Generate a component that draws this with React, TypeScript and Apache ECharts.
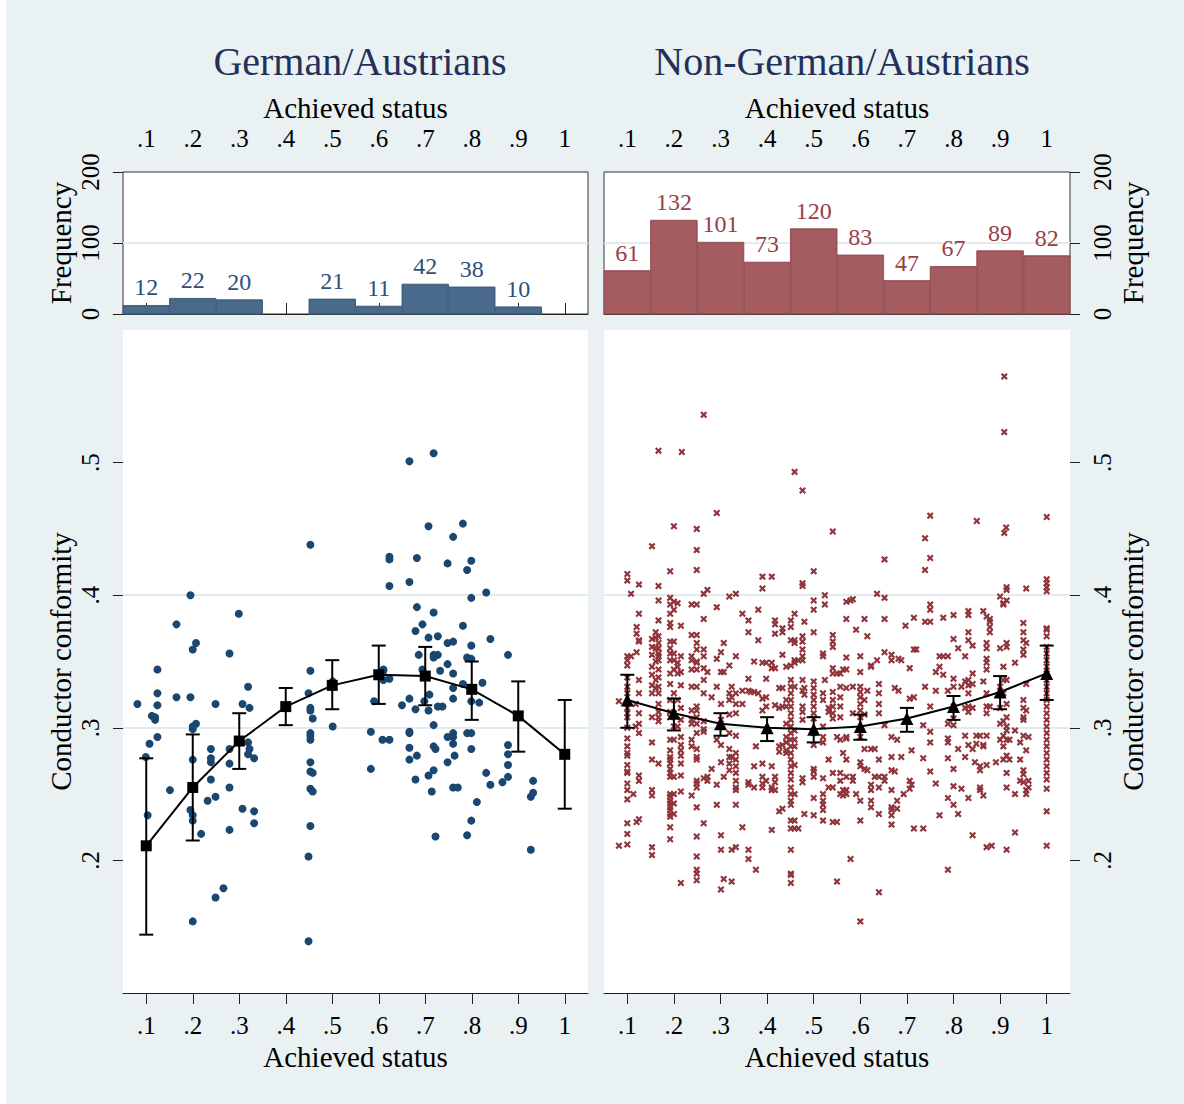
import React, { useEffect, useRef } from "react";
import * as echarts from "echarts";

const FONT = '"Liberation Serif", "Times New Roman", serif';

// axis ticks
const STATUS_TICKS = [0.1, 0.2, 0.3, 0.4, 0.5, 0.6, 0.7, 0.8, 0.9, 1.0];
const CONFORMITY_TICKS = [0.2, 0.3, 0.4, 0.5];

// histograms (bin start, width 0.1)
const BIN_STARTS = [0.05, 0.15, 0.25, 0.35, 0.45, 0.55, 0.65, 0.75, 0.85, 0.95];
const BIN_WIDTH = 0.1;
const GER_COUNTS = [12, 22, 20, 0, 21, 11, 42, 38, 10, 0];
const NON_COUNTS = [61, 132, 101, 73, 120, 83, 47, 67, 89, 82];

// fitted means with confidence intervals
const GER_MEAN = [0.211, 0.255, 0.290, 0.316, 0.332, 0.340, 0.339, 0.329, 0.309, 0.280];
const GER_LO = [0.144, 0.215, 0.269, 0.302, 0.314, 0.318, 0.317, 0.306, 0.282, 0.239];
const GER_HI = [0.277, 0.295, 0.311, 0.330, 0.351, 0.362, 0.361, 0.350, 0.335, 0.321];
const NON_MEAN = [0.321, 0.311, 0.303, 0.300, 0.299, 0.301, 0.307, 0.316, 0.327, 0.341];
const NON_LO = [0.300, 0.298, 0.294, 0.290, 0.289, 0.291, 0.297, 0.306, 0.314, 0.321];
const NON_HI = [0.340, 0.322, 0.311, 0.308, 0.308, 0.310, 0.315, 0.324, 0.339, 0.362];

// German/Austrians: [achieved status, conductor conformity]
const GER_POINTS: number[][] = [
  [0.666,0.501],[0.718,0.507],[0.453,0.438],[0.707,0.452],[0.781,0.454],[0.760,0.444],[0.623,0.429],[0.623,0.427],
  [0.682,0.428],[0.748,0.424],[0.799,0.426],[0.790,0.419],[0.666,0.410],[0.623,0.407],
  [0.081,0.318],[0.124,0.344],[0.124,0.326],[0.124,0.317],[0.112,0.309],[0.119,0.308],[0.119,0.306],[0.124,0.293],
  [0.107,0.288],[0.099,0.278],[0.103,0.234],
  [0.151,0.253],[0.165,0.378],[0.165,0.323],
  [0.195,0.400],[0.207,0.364],[0.200,0.359],[0.195,0.323],[0.207,0.303],[0.200,0.301],[0.200,0.299],[0.200,0.276],
  [0.195,0.238],[0.200,0.234],[0.200,0.230],[0.218,0.220],[0.200,0.154],
  [0.239,0.284],[0.239,0.277],[0.239,0.274],[0.239,0.261],[0.232,0.245],[0.249,0.248],[0.249,0.318],[0.249,0.172],[0.266,0.179],
  [0.279,0.356],[0.299,0.386],[0.279,0.284],[0.279,0.273],[0.279,0.255],[0.279,0.223],[0.307,0.318],[0.319,0.331],
  [0.322,0.315],[0.319,0.289],[0.322,0.284],[0.319,0.280],[0.332,0.277],[0.307,0.239],[0.332,0.237],[0.332,0.228],
  [0.453,0.343],[0.449,0.326],[0.453,0.315],[0.453,0.313],[0.458,0.307],[0.453,0.296],[0.453,0.294],[0.453,0.291],
  [0.453,0.274],[0.453,0.267],[0.458,0.266],[0.453,0.254],[0.458,0.252],[0.453,0.226],[0.449,0.203],[0.449,0.139],
  [0.501,0.335],[0.501,0.301],
  [0.610,0.344],[0.610,0.343],[0.610,0.336],[0.623,0.337],[0.590,0.320],[0.583,0.297],[0.608,0.291],[0.623,0.291],[0.583,0.269],
  [0.682,0.391],[0.694,0.378],[0.679,0.373],[0.707,0.368],[0.727,0.369],[0.718,0.387],[0.686,0.355],[0.718,0.355],
  [0.727,0.355],[0.718,0.353],[0.694,0.344],[0.698,0.339],[0.732,0.343],[0.666,0.322],[0.650,0.317],[0.679,0.314],
  [0.698,0.320],[0.709,0.325],[0.707,0.313],[0.727,0.316],[0.737,0.316],[0.666,0.297],[0.666,0.296],[0.718,0.302],
  [0.666,0.285],[0.682,0.279],[0.666,0.276],[0.679,0.261],[0.718,0.286],[0.722,0.284],[0.707,0.264],[0.718,0.268],
  [0.714,0.252],[0.722,0.218],
  [0.748,0.364],[0.760,0.365],[0.748,0.348],[0.760,0.341],[0.760,0.330],[0.760,0.322],[0.781,0.377],[0.799,0.362],
  [0.790,0.353],[0.799,0.352],[0.781,0.333],[0.799,0.398],[0.831,0.402],[0.840,0.367],[0.823,0.334],[0.816,0.319],
  [0.799,0.320],[0.748,0.293],[0.760,0.296],[0.760,0.293],[0.760,0.288],[0.748,0.274],[0.763,0.279],[0.760,0.255],
  [0.770,0.255],[0.790,0.296],[0.799,0.296],[0.799,0.284],[0.831,0.266],[0.840,0.257],[0.811,0.244],[0.799,0.230],[0.790,0.219],
  [0.878,0.355],[0.878,0.287],[0.878,0.280],[0.878,0.272],[0.878,0.263],[0.866,0.259],[0.932,0.260],[0.932,0.251],
  [0.927,0.248],[0.927,0.208],
];

// Non-German/Austrians: [achieved status, conformity values at that status]
const NON_COLUMNS: [number, number[]][] = [
  [0.082, [0.320, 0.211]],
  [0.100, [0.416, 0.411, 0.354, 0.351, 0.347, 0.338, 0.331, 0.326, 0.315, 0.311, 0.308, 0.300, 0.292, 0.286, 0.281, 0.279, 0.272, 0.267, 0.266, 0.258, 0.253, 0.246, 0.228, 0.220, 0.212]],
  [0.108, [0.401, 0.354]],
  [0.113, [0.250]],
  [0.118, [0.318, 0.301]],
  [0.120, [0.376, 0.371, 0.357, 0.229]],
  [0.125, [0.408, 0.386, 0.366, 0.365, 0.336, 0.326, 0.311, 0.303, 0.296, 0.264, 0.260, 0.231]],
  [0.153, [0.437, 0.367, 0.361, 0.355, 0.346, 0.340, 0.332, 0.326, 0.308, 0.289, 0.276, 0.253, 0.249, 0.210, 0.204]],
  [0.161, [0.372, 0.368, 0.360, 0.350, 0.336, 0.330]],
  [0.167, [0.509, 0.407, 0.396, 0.381, 0.369, 0.364, 0.360, 0.356, 0.354, 0.351, 0.344, 0.338, 0.331, 0.326, 0.318, 0.312, 0.308, 0.305, 0.273]],
  [0.192, [0.418, 0.398, 0.393, 0.386, 0.379, 0.376, 0.365, 0.360, 0.356, 0.351, 0.341, 0.333, 0.321, 0.312, 0.308, 0.291, 0.283, 0.278, 0.276, 0.273, 0.269, 0.266, 0.263, 0.250, 0.248, 0.245, 0.243, 0.240, 0.238, 0.235, 0.233, 0.225, 0.216]],
  [0.200, [0.452, 0.395, 0.389, 0.365, 0.356, 0.351, 0.344, 0.326, 0.311, 0.301, 0.291, 0.263, 0.250, 0.243, 0.235]],
  [0.208, [0.394, 0.349, 0.346, 0.341, 0.321, 0.301]],
  [0.215, [0.377, 0.354, 0.342, 0.332, 0.315, 0.306, 0.293, 0.287, 0.283, 0.279, 0.273, 0.264, 0.252, 0.183]],
  [0.217, [0.508]],
  [0.238, [0.393, 0.370, 0.354, 0.351, 0.344, 0.331, 0.313, 0.306, 0.303, 0.291, 0.286, 0.249]],
  [0.249, [0.450, 0.434, 0.419, 0.393, 0.370, 0.364, 0.359, 0.350, 0.349, 0.344, 0.331, 0.316, 0.313, 0.308, 0.303, 0.296, 0.284, 0.278, 0.276, 0.260, 0.258, 0.255, 0.240, 0.218, 0.203, 0.193, 0.190, 0.185]],
  [0.264, [0.536, 0.401, 0.382, 0.359, 0.354, 0.345, 0.336, 0.326, 0.305, 0.299, 0.297, 0.262, 0.228]],
  [0.272, [0.404, 0.342, 0.263, 0.260]],
  [0.281, [0.323, 0.269]],
  [0.292, [0.462, 0.391, 0.352, 0.331, 0.291, 0.257, 0.242]],
  [0.301, [0.357, 0.342, 0.318, 0.306, 0.301, 0.287, 0.274, 0.219, 0.208, 0.178]],
  [0.307, [0.364, 0.342, 0.263, 0.186]],
  [0.319, [0.399, 0.347, 0.326, 0.321, 0.310, 0.296, 0.284, 0.278, 0.273, 0.268]],
  [0.324, [0.331, 0.323, 0.278, 0.208, 0.184]],
  [0.333, [0.401, 0.354, 0.326, 0.318, 0.311, 0.294, 0.281, 0.276, 0.271, 0.266, 0.260, 0.255, 0.253, 0.242, 0.210]],
  [0.347, [0.386, 0.328, 0.318, 0.225]],
  [0.360, [0.381, 0.372, 0.337, 0.328, 0.259, 0.257, 0.208, 0.201]],
  [0.365, [0.327]],
  [0.372, [0.350, 0.327, 0.271, 0.255]],
  [0.376, [0.286, 0.193]],
  [0.381, [0.389, 0.366, 0.326]],
  [0.390, [0.414, 0.405, 0.349, 0.322, 0.313, 0.273, 0.263, 0.258, 0.255]],
  [0.398, [0.349, 0.337, 0.323, 0.316, 0.260]],
  [0.410, [0.414, 0.349, 0.345, 0.271, 0.255, 0.253, 0.223]],
  [0.417, [0.381, 0.378, 0.371, 0.345, 0.317, 0.263, 0.259, 0.253]],
  [0.426, [0.330, 0.315, 0.286, 0.282, 0.237]],
  [0.433, [0.375, 0.372, 0.355, 0.330, 0.316, 0.287, 0.239]],
  [0.441, [0.346, 0.321, 0.316, 0.303, 0.293, 0.289, 0.283, 0.281]],
  [0.451, [0.381, 0.376, 0.366, 0.347, 0.336, 0.331, 0.326, 0.321, 0.316, 0.311, 0.306, 0.301, 0.296, 0.291, 0.286, 0.281, 0.276, 0.271, 0.266, 0.261, 0.255, 0.250, 0.245, 0.242, 0.230, 0.224, 0.208, 0.190, 0.189, 0.183]],
  [0.459, [0.493, 0.386, 0.366, 0.364, 0.351, 0.349, 0.331, 0.298, 0.291, 0.286, 0.272, 0.250, 0.230, 0.224]],
  [0.467, [0.351, 0.224]],
  [0.476, [0.479, 0.409, 0.407, 0.369, 0.365, 0.359, 0.354, 0.351, 0.336, 0.328, 0.316, 0.312, 0.306, 0.262, 0.259]],
  [0.480, [0.380, 0.330, 0.325, 0.235]],
  [0.500, [0.418, 0.396, 0.389, 0.372, 0.335, 0.330, 0.325, 0.321, 0.316, 0.311, 0.307, 0.296, 0.287, 0.269, 0.267, 0.263, 0.247, 0.234]],
  [0.520, [0.356, 0.354, 0.326, 0.321, 0.301, 0.293, 0.289, 0.262, 0.250, 0.245, 0.242, 0.238, 0.230]],
  [0.524, [0.400, 0.393, 0.336]],
  [0.532, [0.315, 0.312, 0.276, 0.255]],
  [0.541, [0.448, 0.370, 0.365, 0.361, 0.345, 0.341, 0.327, 0.321, 0.316, 0.311, 0.307, 0.266, 0.255, 0.229]],
  [0.550, [0.341, 0.293, 0.229, 0.184]],
  [0.557, [0.341, 0.331, 0.323, 0.316, 0.308, 0.291, 0.266, 0.260, 0.250]],
  [0.563, [0.344, 0.281, 0.253, 0.249]],
  [0.570, [0.395, 0.382, 0.353, 0.344, 0.330, 0.293, 0.292, 0.276, 0.263, 0.253, 0.250]],
  [0.579, [0.396, 0.201]],
  [0.584, [0.397, 0.331, 0.311, 0.263, 0.260]],
  [0.591, [0.374, 0.250]],
  [0.600, [0.354, 0.342, 0.331, 0.327, 0.323, 0.318, 0.313, 0.308, 0.293, 0.274, 0.271, 0.245, 0.230, 0.154]],
  [0.609, [0.382, 0.321, 0.310, 0.284, 0.269]],
  [0.615, [0.369, 0.328, 0.268]],
  [0.623, [0.347, 0.346, 0.284, 0.257, 0.253, 0.245, 0.240]],
  [0.631, [0.284, 0.263]],
  [0.636, [0.401, 0.351]],
  [0.640, [0.333, 0.326, 0.318, 0.311, 0.276, 0.263, 0.255, 0.235, 0.176]],
  [0.652, [0.427, 0.398, 0.382, 0.357, 0.302, 0.263, 0.260]],
  [0.667, [0.355, 0.351, 0.293, 0.278, 0.268, 0.253, 0.240, 0.238, 0.234, 0.227]],
  [0.674, [0.330, 0.267]],
  [0.679, [0.291, 0.245, 0.239]],
  [0.682, [0.352, 0.328]],
  [0.688, [0.351, 0.278]],
  [0.693, [0.250]],
  [0.697, [0.377]],
  [0.706, [0.345, 0.322, 0.260, 0.254]],
  [0.710, [0.283, 0.257]],
  [0.715, [0.383, 0.359, 0.323, 0.224]],
  [0.720, [0.359]],
  [0.735, [0.302, 0.277, 0.224]],
  [0.739, [0.443, 0.419, 0.380, 0.331]],
  [0.750, [0.460, 0.428, 0.393, 0.389, 0.380, 0.316, 0.297, 0.289, 0.267]],
  [0.762, [0.342, 0.328, 0.258]],
  [0.770, [0.354, 0.346, 0.234]],
  [0.778, [0.383, 0.354, 0.340]],
  [0.788, [0.354, 0.328, 0.303, 0.292, 0.289, 0.277, 0.247, 0.193]],
  [0.800, [0.385, 0.367, 0.337, 0.331, 0.316, 0.307, 0.302, 0.269, 0.256, 0.242]],
  [0.810, [0.360, 0.284, 0.235]],
  [0.817, [0.331, 0.254]],
  [0.825, [0.354, 0.335, 0.315, 0.294, 0.278]],
  [0.832, [0.388, 0.385, 0.372, 0.366, 0.336, 0.332, 0.326, 0.316, 0.312, 0.287, 0.247]],
  [0.841, [0.362, 0.341, 0.333, 0.315, 0.284, 0.219]],
  [0.846, [0.274]],
  [0.849, [0.294, 0.288]],
  [0.850, [0.456]],
  [0.857, [0.294, 0.271, 0.268, 0.255, 0.253]],
  [0.864, [0.388, 0.335, 0.287, 0.286, 0.249]],
  [0.871, [0.384, 0.364, 0.360, 0.352, 0.349, 0.344, 0.326, 0.316, 0.311, 0.294, 0.272, 0.210]],
  [0.878, [0.382, 0.380, 0.376, 0.372, 0.316]],
  [0.882, [0.211]],
  [0.891, [0.274]],
  [0.900, [0.399, 0.360, 0.331, 0.315, 0.303, 0.291]],
  [0.907, [0.394, 0.393, 0.346, 0.336, 0.326, 0.305, 0.294, 0.286, 0.276]],
  [0.909, [0.565, 0.523, 0.447]],
  [0.913, [0.451]],
  [0.914, [0.406, 0.404, 0.396, 0.364, 0.361, 0.336, 0.318, 0.308, 0.301, 0.298, 0.291, 0.279, 0.266, 0.255, 0.208]],
  [0.920, [0.291, 0.276]],
  [0.932, [0.349, 0.298, 0.250, 0.221]],
  [0.943, [0.289, 0.276, 0.260]],
  [0.950, [0.379, 0.372, 0.366, 0.359, 0.355, 0.321, 0.315, 0.308, 0.306, 0.294, 0.268, 0.265, 0.259]],
  [0.956, [0.405, 0.364, 0.333, 0.313, 0.283, 0.253, 0.250]],
  [0.961, [0.293, 0.260, 0.255]],
  [1.000, [0.459, 0.412, 0.409, 0.406, 0.403, 0.375, 0.374, 0.369, 0.361, 0.356, 0.351, 0.346, 0.341, 0.336, 0.331, 0.326, 0.321, 0.316, 0.311, 0.306, 0.301, 0.296, 0.291, 0.286, 0.281, 0.276, 0.271, 0.266, 0.261, 0.254, 0.237, 0.211]],
];

const NON_POINTS = NON_COLUMNS.flatMap(([x, ys]) => ys.map((y) => [x, y]));

const BG = "#e9f1f3";
const GRIDLINE = "#e2ebee";
const AXIS = "#222";
const NAVY = "#1a476f";
const MAROON = "#90353b";
const GER_BAR = "#4a6a8b";
const NON_BAR = "#a55c61";
const GER_LABEL = "#2d5079";
const NON_LABEL = "#9a3e46";
const TITLE = "#22305a";

const X_MARK = "path://M0,2.2 L2.2,0 L5,2.8 L7.8,0 L10,2.2 L7.2,5 L10,7.8 L7.8,10 L5,7.2 L2.2,10 L0,7.8 L2.8,5 Z";

const fmt = (v: number) => {
  const s = String(Math.round(v * 10) / 10);
  return s.startsWith("0.") ? s.slice(1) : s;
};

const histData = (counts: number[]) =>
  BIN_STARTS.map((s, i) => [s, s + BIN_WIDTH, counts[i]]).filter((d) => d[2] > 0);

const histSeries = (idx: number, counts: number[], fill: string, labelColor: string) => ({
  type: "custom",
  xAxisIndex: idx,
  yAxisIndex: idx,
  data: histData(counts),
  encode: { x: [0, 1], y: 2 },
  z: 2,
  renderItem: (_p: any, api: any) => {
    const top = api.coord([api.value(0), api.value(2)]);
    const bot = api.coord([api.value(1), 0]);
    return {
      type: "group",
      children: [
        {
          type: "rect",
          shape: { x: top[0], y: top[1], width: bot[0] - top[0], height: bot[1] - top[1] },
          style: { fill, stroke: fill, lineWidth: 1, opacity: 1 },
        },
        {
          type: "rect",
          shape: { x: top[0] + 0.5, y: top[1] + 0.5, width: bot[0] - top[0] - 1, height: bot[1] - top[1] - 1 },
          style: { fill: "none", stroke: "rgba(0,0,0,0.12)", lineWidth: 1 },
        },
        {
          type: "text",
          x: (top[0] + bot[0]) / 2,
          y: top[1] - 6,
          style: {
            text: String(api.value(2)),
            fill: labelColor,
            fontSize: 24,
            fontFamily: FONT,
            align: "center",
            verticalAlign: "bottom",
          },
        },
      ],
    };
  },
});

const errorSeries = (idx: number, lo: number[], hi: number[]) => ({
  type: "custom",
  xAxisIndex: idx,
  yAxisIndex: idx,
  data: STATUS_TICKS.map((x, i) => [x, lo[i], hi[i]]),
  encode: { x: 0, y: [1, 2] },
  z: 4,
  renderItem: (_p: any, api: any) => {
    const x = api.value(0);
    const a = api.coord([x, api.value(1)]);
    const b = api.coord([x, api.value(2)]);
    const w = 7;
    const st = { stroke: "#000", lineWidth: 2 };
    return {
      type: "group",
      children: [
        { type: "line", shape: { x1: a[0], y1: a[1], x2: b[0], y2: b[1] }, style: st },
        { type: "line", shape: { x1: a[0] - w, y1: a[1], x2: a[0] + w, y2: a[1] }, style: st },
        { type: "line", shape: { x1: b[0] - w, y1: b[1], x2: b[0] + w, y2: b[1] }, style: st },
      ],
    };
  },
});

const labelStyle = { color: "#000", fontSize: 25, fontFamily: FONT };
const nameStyle = { color: "#000", fontSize: 29, fontFamily: FONT };

const histX = (gridIndex: number) => ({
  type: "value",
  gridIndex,
  position: "top",
  min: 0.05,
  max: 1.05,
  name: "Achieved status",
  nameLocation: "middle",
  nameGap: 50,
  nameTextStyle: nameStyle,
  axisLine: { show: true, lineStyle: { color: AXIS, width: 1 } },
  axisTick: { show: true, customValues: STATUS_TICKS, length: 11, lineStyle: { color: AXIS, width: 1 } },
  axisLabel: { customValues: STATUS_TICKS, formatter: fmt, margin: 21, ...labelStyle },
  splitLine: { show: false },
});

const scatX = (gridIndex: number) => ({
  type: "value",
  gridIndex,
  position: "bottom",
  min: 0.05,
  max: 1.05,
  name: "Achieved status",
  nameLocation: "middle",
  nameGap: 46,
  nameTextStyle: nameStyle,
  axisLine: { show: true, lineStyle: { color: AXIS, width: 1 } },
  axisTick: { show: true, customValues: STATUS_TICKS, length: 11, lineStyle: { color: AXIS, width: 1 } },
  axisLabel: { customValues: STATUS_TICKS, formatter: fmt, margin: 20, ...labelStyle },
  splitLine: { show: false },
});

const histY = (gridIndex: number, position: string) => ({
  type: "value",
  gridIndex,
  position,
  min: 0,
  max: 200,
  interval: 100,
  name: "Frequency",
  nameLocation: "middle",
  nameRotate: 90,
  nameGap: 48,
  nameTextStyle: nameStyle,
  axisLine: { show: false },
  axisTick: { show: true, length: 10, lineStyle: { color: AXIS, width: 1 } },
  axisLabel: { rotate: 90, margin: 20, ...labelStyle },
  splitLine: { show: true, showMinLine: false, showMaxLine: false, lineStyle: { color: GRIDLINE, width: 2 } },
});

const scatY = (gridIndex: number, position: string) => ({
  type: "value",
  gridIndex,
  position,
  min: 0.1,
  max: 0.6,
  interval: 0.1,
  name: "Conductor conformity",
  nameLocation: "middle",
  nameRotate: 90,
  nameGap: 48,
  nameTextStyle: nameStyle,
  axisLine: { show: false },
  axisTick: { show: true, customValues: CONFORMITY_TICKS, length: 10, lineStyle: { color: AXIS, width: 1 } },
  axisLabel: { rotate: 90, margin: 20, customValues: CONFORMITY_TICKS, formatter: fmt, ...labelStyle },
  splitLine: { show: true, showMinLine: false, showMaxLine: false, lineStyle: { color: GRIDLINE, width: 2 } },
});

const option: any = {
  animation: false,
  backgroundColor: BG,
  textStyle: { fontFamily: FONT },
  title: [
    {
      text: "German/Austrians",
      left: 355,
      top: 36,
      textAlign: "center",
      textStyle: { fontFamily: FONT, fontSize: 40, fontWeight: "normal", color: TITLE },
    },
    {
      text: "Non-German/Austrians",
      left: 837,
      top: 36,
      textAlign: "center",
      textStyle: { fontFamily: FONT, fontSize: 40, fontWeight: "normal", color: TITLE },
    },
  ],
  graphic: [
    { type: "rect", left: 0, top: 0, shape: { width: 6, height: 1104 }, style: { fill: "#fff" }, silent: true },
  ],
  grid: [
    { left: 123, top: 172, width: 465, height: 142, show: true, backgroundColor: "#fff", borderColor: "#333", borderWidth: 1 },
    { left: 604, top: 172, width: 466, height: 142, show: true, backgroundColor: "#fff", borderColor: "#333", borderWidth: 1 },
    { left: 123, top: 330, width: 465, height: 663, show: true, backgroundColor: "#fff", borderWidth: 0 },
    { left: 604, top: 330, width: 466, height: 663, show: true, backgroundColor: "#fff", borderWidth: 0 },
  ],
  xAxis: [histX(0), histX(1), scatX(2), scatX(3)],
  yAxis: [histY(0, "left"), histY(1, "right"), scatY(2, "left"), scatY(3, "right")],
  series: [
    histSeries(0, GER_COUNTS, GER_BAR, GER_LABEL),
    histSeries(1, NON_COUNTS, NON_BAR, NON_LABEL),
    {
      type: "scatter",
      xAxisIndex: 2,
      yAxisIndex: 2,
      data: GER_POINTS,
      symbol: "circle",
      symbolSize: 8,
      itemStyle: { color: NAVY, opacity: 1 },
      z: 2,
    },
    {
      type: "scatter",
      xAxisIndex: 3,
      yAxisIndex: 3,
      data: NON_POINTS,
      symbol: X_MARK,
      symbolSize: 7,
      itemStyle: { color: MAROON, opacity: 1 },
      z: 2,
    },
    errorSeries(2, GER_LO, GER_HI),
    errorSeries(3, NON_LO, NON_HI),
    {
      type: "line",
      xAxisIndex: 2,
      yAxisIndex: 2,
      data: STATUS_TICKS.map((x, i) => [x, GER_MEAN[i]]),
      symbol: "rect",
      symbolSize: 11,
      showAllSymbol: true,
      itemStyle: { color: "#000" },
      lineStyle: { color: "#000", width: 2 },
      z: 5,
    },
    {
      type: "line",
      xAxisIndex: 3,
      yAxisIndex: 3,
      data: STATUS_TICKS.map((x, i) => [x, NON_MEAN[i]]),
      symbol: "triangle",
      symbolSize: 13,
      showAllSymbol: true,
      itemStyle: { color: "#000" },
      lineStyle: { color: "#000", width: 2 },
      z: 5,
    },
  ],
};

export default function App() {
  const ref = useRef<HTMLDivElement>(null);
  useEffect(() => {
    if (!ref.current) return;
    const chart = echarts.init(ref.current, null, { renderer: "svg" });
    chart.setOption(option);
    return () => chart.dispose();
  }, []);
  return (
    <div style={{ position: "absolute", left: 0, top: 0, width: 1184, height: 1104, background: "#fff" }}>
      <div ref={ref} style={{ width: 1184, height: 1104 }} />
    </div>
  );
}
